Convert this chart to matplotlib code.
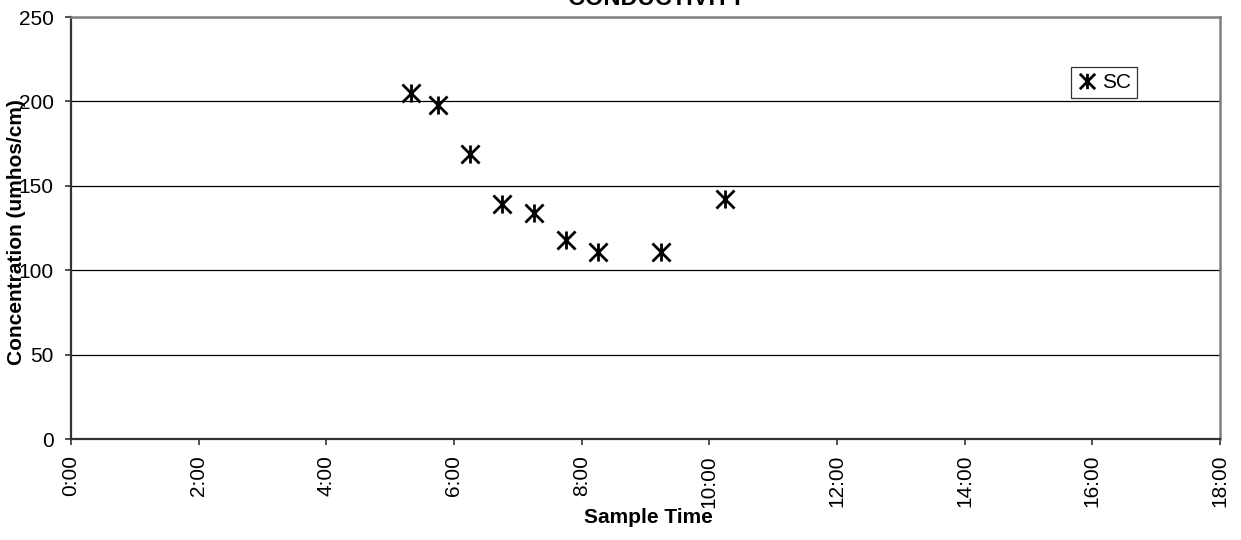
"""Conductivity vs sample time, scatter of SC readings."""

import matplotlib
matplotlib.use('Agg')
import matplotlib.pyplot as plt
from matplotlib.path import Path

plt.rcParams['font.family'] = ['Liberation Sans', 'DejaVu Sans']

sample_times = ['5:20', '5:45', '6:15', '6:45', '7:15', '7:45', '8:15', '9:15', '10:15']
sc_values = [205, 198, 169, 139, 134, 118, 111, 111, 142]
x_tick_labels = ['0:00', '2:00', '4:00', '6:00', '8:00', '10:00', '12:00', '14:00', '16:00', '18:00']
y_ticks = [0, 50, 100, 150, 200, 250]


def to_hours(t):
    """Convert 'H:MM' to decimal hours."""
    h, m = t.split(':')
    return int(h) + int(m) / 60


# Excel-style star marker: an X with a vertical bar through it
star = Path(
    [(-1, -1), (1, 1), (-1, 1), (1, -1), (0, -1), (0, 1)],
    [Path.MOVETO, Path.LINETO, Path.MOVETO, Path.LINETO, Path.MOVETO, Path.LINETO],
)

fig = plt.figure(figsize=(12.41, 5.40), dpi=100)
ax = fig.add_axes([0.0572, 0.187, 0.9258, 0.7815])

x_hours = [to_hours(t) for t in sample_times]
ax.plot(x_hours, sc_values, linestyle='none', marker=star, markersize=13,
        markeredgewidth=2.0, color='black', label='SC', clip_on=False)

ax.set_xlim(0, 18)
ax.set_ylim(0, 250)
ax.set_xticks([to_hours(t) for t in x_tick_labels])
ax.set_xticklabels(x_tick_labels, rotation=90, fontsize=15)
ax.set_yticks(y_ticks)
ax.set_yticklabels([str(v) for v in y_ticks], fontsize=15)
ax.tick_params(axis='both', direction='out', length=4.5, width=1.2, color='#333333')
ax.tick_params(axis='x', pad=7)
ax.tick_params(axis='y', pad=8)

for v in y_ticks[1:-1]:
    ax.axhline(v, color='black', linewidth=0.9, zorder=1)

ax.spines['left'].set_color('#333333')
ax.spines['left'].set_linewidth(1.6)
ax.spines['bottom'].set_color('#333333')
ax.spines['bottom'].set_linewidth(1.6)
ax.spines['top'].set_color('#808080')
ax.spines['top'].set_linewidth(1.8)
ax.spines['right'].set_color('#808080')
ax.spines['right'].set_linewidth(1.8)

ax.set_ylabel('Concentration (umhos/cm)', fontsize=15, fontweight='bold')
ax.yaxis.set_label_coords(-0.039, 0.49)
ax.set_xlabel('Sample Time', fontsize=15, fontweight='bold', va='center')
ax.xaxis.set_label_coords(0.503, -0.185)

fig.text(0.529, 1 - 5 / 540, 'CONDUCTIVITY', fontsize=17, fontweight='bold',
         ha='center', va='baseline')

leg = ax.legend(loc='upper left', bbox_to_anchor=(0.870, 0.882), fontsize=15,
                frameon=True, fancybox=False, edgecolor='black', borderpad=0.3,
                handlelength=1.0, handletextpad=0.2, borderaxespad=0, markerscale=0.85)
leg.get_frame().set_linewidth(0.9)

plt.savefig('out.png', dpi=100)
